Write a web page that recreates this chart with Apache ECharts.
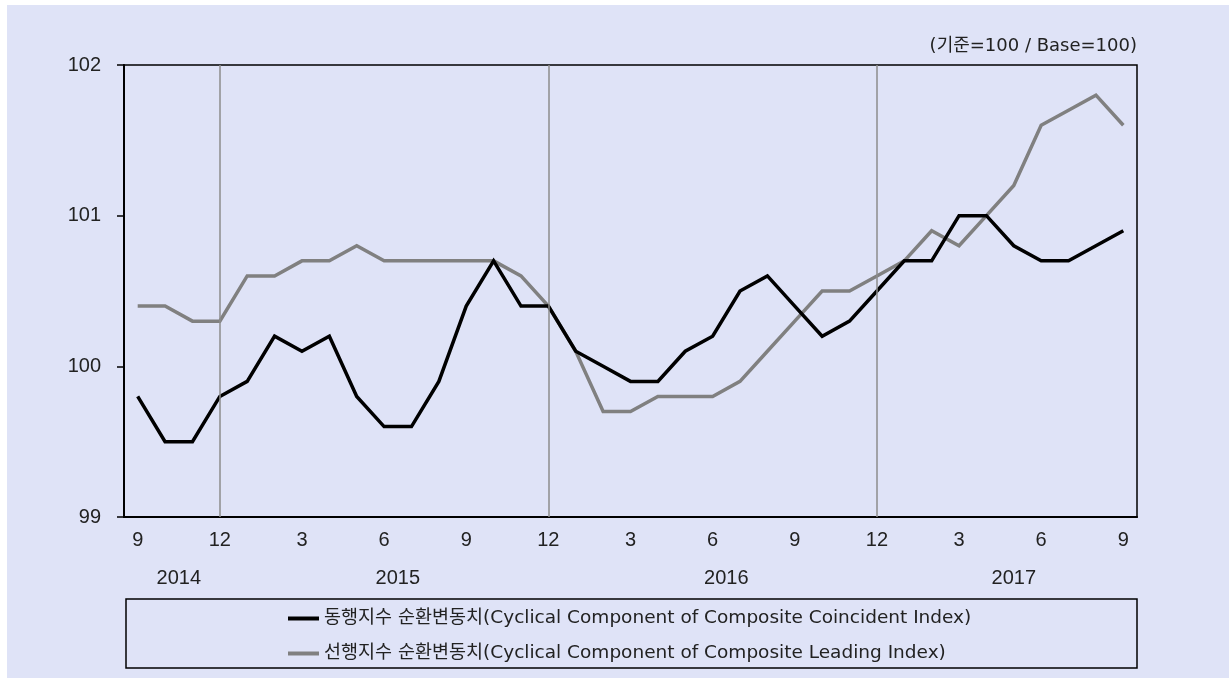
<!DOCTYPE html>
<html>
<head>
<meta charset="utf-8">
<script src="https://cdn.jsdelivr.net/npm/echarts@6/dist/echarts.min.js"></script>
<style>
  html, body { margin: 0; padding: 0; background: #fff; }
  #chart { position: absolute; left: 7px; top: 5px; width: 1222px; height: 673px; }
</style>
</head>
<body>
<div id="chart"></div>
<script>
// 월별 카테고리 (2014.09 ~ 2017.09)
const categories = [
  '2014.09', '2014.10', '2014.11', '2014.12',
  '2015.01', '2015.02', '2015.03', '2015.04', '2015.05', '2015.06',
  '2015.07', '2015.08', '2015.09', '2015.10', '2015.11', '2015.12',
  '2016.01', '2016.02', '2016.03', '2016.04', '2016.05', '2016.06',
  '2016.07', '2016.08', '2016.09', '2016.10', '2016.11', '2016.12',
  '2017.01', '2017.02', '2017.03', '2017.04', '2017.05', '2017.06',
  '2017.07', '2017.08', '2017.09'
]

// 동행지수 순환변동치
const coincident = [
  99.8, 99.5, 99.5, 99.8,
  99.9, 100.2, 100.1, 100.2, 99.8, 99.6, 99.6, 99.9, 100.4, 100.7, 100.4, 100.4,
  100.1, 100.0, 99.9, 99.9, 100.1, 100.2, 100.5, 100.6, 100.4, 100.2, 100.3, 100.5,
  100.7, 100.7, 101.0, 101.0, 100.8, 100.7, 100.7, 100.8, 100.9
]

// 선행지수 순환변동치
const leading = [
  100.4, 100.4, 100.3, 100.3,
  100.6, 100.6, 100.7, 100.7, 100.8, 100.7, 100.7, 100.7, 100.7, 100.7, 100.6, 100.4,
  100.1, 99.7, 99.7, 99.8, 99.8, 99.8, 99.9, 100.1, 100.3, 100.5, 100.5, 100.6,
  100.7, 100.9, 100.8, 101.0, 101.2, 101.6, 101.7, 101.8, 101.6
]

const yTicks = [99, 100, 101, 102]
const seriesNames = [
  '동행지수 순환변동치(Cyclical Component of Composite Coincident Index)',
  '선행지수 순환변동치(Cyclical Component of Composite Leading Index)'
]
const unitText = '(기준=100 / Base=100)'

// 연도 라벨은 해당 연도 월들의 가운데에 둔다
const years = [...new Set(categories.map(c => c.slice(0, 4)))]
const yearPos = years.map(y => {
  const idx = categories.map((c, i) => c.startsWith(y) ? i : -1).filter(i => i >= 0)
  return (idx[0] + idx[idx.length - 1]) / 2
})
const decembers = categories.filter(c => c.endsWith('.12'))

const font = "'Liberation Sans', 'Noto Sans CJK KR', sans-serif"
const wideFont = "'DejaVu Sans', 'Noto Sans CJK KR', sans-serif"
const textColor = '#222'

const chart = echarts.init(document.getElementById('chart'))
chart.setOption({
  backgroundColor: '#dfe3f7',
  animation: false,
  textStyle: { fontFamily: font },
  title: {
    text: unitText,
    right: 92,
    top: 32,
    padding: 0,
    textStyle: { fontSize: 18, fontWeight: 'normal', color: textColor, fontFamily: wideFont }
  },
  grid: {
    left: 117,
    top: 60,
    width: 1013,
    height: 452,
    show: true,
    borderColor: '#000',
    borderWidth: 1.5,
    backgroundColor: 'transparent'
  },
  legend: {
    data: seriesNames,
    orient: 'vertical',
    left: 281,
    top: 603,
    padding: 0,
    icon: 'rect',
    itemWidth: 31,
    itemHeight: 4,
    itemGap: 14,
    textStyle: { fontSize: 18.5, lineHeight: 21, color: textColor, fontFamily: wideFont }
  },
  graphic: [{
    type: 'rect',
    shape: { x: 119, y: 594, width: 1011, height: 69 },
    style: { fill: 'none', stroke: '#000', lineWidth: 1.5 },
    silent: true
  }],
  xAxis: [
    {
      type: 'category',
      data: categories,
      boundaryGap: true,
      axisLine: { lineStyle: { color: '#000', width: 2 } },
      axisTick: { show: false },
      splitLine: { show: false },
      axisLabel: {
        interval: 2,
        margin: 13,
        fontSize: 20,
        color: textColor,
        formatter: v => String(parseInt(v.slice(5), 10))
      }
    },
    {
      type: 'value',
      position: 'bottom',
      min: -0.5,
      max: categories.length - 0.5,
      axisLine: { show: false },
      axisTick: { show: false },
      splitLine: { show: false },
      axisLabel: {
        customValues: yearPos,
        margin: 51,
        fontSize: 20,
        color: textColor,
        formatter: v => years[yearPos.indexOf(v)]
      }
    }
  ],
  yAxis: {
    type: 'value',
    min: yTicks[0],
    max: yTicks[yTicks.length - 1],
    interval: 1,
    axisLine: { show: true, onZero: false, lineStyle: { color: '#000', width: 2 } },
    axisTick: { show: true, length: 7, lineStyle: { color: '#000', width: 1.5 } },
    splitLine: { show: false },
    axisLabel: { margin: 23, fontSize: 20, color: textColor }
  },
  series: [
    {
      type: 'line',
      data: [],
      z: 1,
      silent: true,
      markLine: {
        silent: true,
        symbol: 'none',
        label: { show: false },
        lineStyle: { color: '#8c8c8c', width: 1.5, type: 'solid' },
        data: decembers.map(d => ({ xAxis: d }))
      }
    },
    {
      name: seriesNames[0],
      type: 'line',
      data: coincident,
      z: 3,
      symbol: 'none',
      lineStyle: { color: '#000', width: 3.5, join: 'miter' },
      itemStyle: { color: '#000' }
    },
    {
      name: seriesNames[1],
      type: 'line',
      data: leading,
      z: 2,
      symbol: 'none',
      lineStyle: { color: '#808080', width: 3.5, join: 'miter' },
      itemStyle: { color: '#808080' }
    }
  ]
})
</script>
</body>
</html>
